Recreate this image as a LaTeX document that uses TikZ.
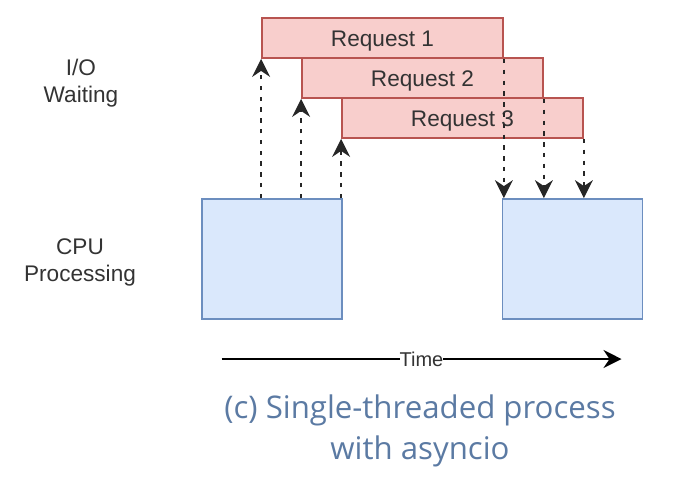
\documentclass[tikz,border=0pt]{standalone}
\usepackage{fontspec}
\setmainfont{Liberation Sans}
\newfontfamily\captionfont{Open Sans}
\usetikzlibrary{arrows.meta}
\definecolor{reqfill}{HTML}{F8CECC}
\definecolor{reqline}{HTML}{B85450}
\definecolor{cpufill}{HTML}{DAE8FC}
\definecolor{cpuline}{HTML}{6C8EBF}
\definecolor{txt}{HTML}{333333}
\definecolor{captxt}{HTML}{5B7AA3}
\begin{document}
\begin{tikzpicture}[x=0.5pt,y=-0.5pt,line width=0.9pt,
  tip/.style={-{Stealth[length=9pt,width=9pt,inset=3pt]}},
  reqbox/.style={draw=reqline,fill=reqfill,minimum width=120.5pt,minimum height=20pt,inner sep=0pt,
    text height=8.1pt,text depth=0pt,text=txt,font=\fontsize{11.3}{13.5}\selectfont},
  cpubox/.style={draw=cpuline,fill=cpufill,minimum width=70pt,minimum height=60pt,inner sep=0pt},
  rowlabel/.style={align=center,text=txt,font=\fontsize{11.3}{13.5}\selectfont},
  wait/.style={tip,line width=0.8pt,dash pattern=on 2.2pt off 3.2pt,black!85}]
\useasboundingbox (0,0) rectangle (700,484);

\node[rowlabel] (io) at (81,83) {I/O\\Waiting};
\node[rowlabel] (cpu) at (80,262) {CPU\\Processing};

\node[cpubox] (cpuA) at (272,259) {};
\node[cpubox] (cpuB) at (572.5,259) {};

\node[reqbox] (req1) at (382.5,38) {Request 1};
\node[reqbox] (req2) at (422.5,78) {Request 2};
\node[reqbox] (req3) at (462.5,118) {Request 3};

\draw[wait] (req1.south west |- cpuA.north) -- (req1.south west);
\draw[wait] (req2.south west |- cpuA.north) -- (req2.south west);
\draw[wait] (req3.south west |- cpuA.north) -- (req3.south west);
\draw[wait] (req1.south east) -- (req1.south east |- cpuB.north);
\draw[wait] (req2.south east) -- (req2.south east |- cpuB.north);
\draw[wait] (req3.south east) -- (req3.south east |- cpuB.north);

\coordinate (t0) at (221.5,359);
\coordinate (t1) at (621.5,359);
\draw[tip,line width=0.8pt] (t0) -- node[fill=white,inner sep=0pt,text=txt,font=\fontsize{10}{12}\selectfont] (time) {Time} (t1);

\node[align=center,text=captxt,font=\captionfont\fontsize{15.6}{20.5}\selectfont] (cap) at (420,431) {(c) Single-threaded process\\with asyncio};
\end{tikzpicture}
\end{document}
